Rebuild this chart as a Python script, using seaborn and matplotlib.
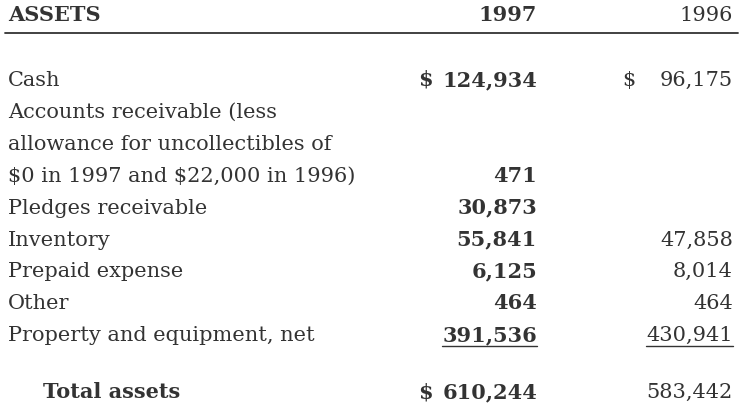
import matplotlib
matplotlib.use('Agg')
import matplotlib.pyplot as plt
import seaborn as sns

# Dados da tabela
labels = [
    'Cash',
    'Accounts receivable (less',
    'allowance for uncollectibles of',
    '$0 in 1997 and $22,000 in 1996)',
    'Pledges receivable',
    'Inventory',
    'Prepaid expense',
    'Other',
    'Property and equipment, net',
]
values_1997 = [124934, None, None, 471, 30873, 55841, 6125, 464, 391536]
values_1996 = [96175, None, None, None, None, 47858, 8014, 464, 430941]
total_label = 'Total assets'
total_1997 = 610244
total_1996 = 583442
years = ['1997', '1996']

sns.set_theme(style='white')
plt.rcParams['font.family'] = ['DejaVu Serif']

ink = '#333333'
fs = 15

fig = plt.figure(figsize=(7.4, 4.15), dpi=100)
ax = fig.add_axes([0, 0, 1, 1])
ax.set_xlim(0, 740)
ax.set_ylim(415, 0)
ax.axis('off')

x_label = 8
x_97 = 537
x_96 = 733
x_dollar97 = 418
x_dollar96 = 622

# cabeçalho
ax.text(x_label, 21, 'ASSETS', fontsize=fs, fontweight='bold', color=ink, va='baseline')
ax.text(x_97, 21, years[0], fontsize=fs, fontweight='bold', color=ink, va='baseline', ha='right')
ax.text(x_96, 21, years[1], fontsize=fs, color=ink, va='baseline', ha='right')
ax.plot([5, 738], [33, 33], color=ink, lw=1.3)

renderer = fig.canvas.get_renderer()

def underline(t, y):
    bb = t.get_window_extent(renderer=renderer)
    inv = ax.transData.inverted()
    (x0, _), (x1, _) = inv.transform([(bb.x0, 0), (bb.x1, 0)])
    ax.plot([x0, x1], [y, y], color=ink, lw=1.0)

y0 = 86
step = 31.9
for i, lab in enumerate(labels):
    y = y0 + i * step
    ax.text(x_label, y, lab, fontsize=fs, color=ink, va='baseline', parse_math=False)
    if values_1997[i] is not None:
        t = ax.text(x_97, y, f'{values_1997[i]:,}', fontsize=fs, fontweight='bold',
                    color=ink, va='baseline', ha='right')
        if i == len(labels) - 1:
            underline(t, y + 5)
    if values_1996[i] is not None:
        t = ax.text(x_96, y, f'{values_1996[i]:,}', fontsize=fs, color=ink,
                    va='baseline', ha='right')
        if i == len(labels) - 1:
            underline(t, y + 5)
    if i == 0:
        ax.text(x_dollar97, y, '$', fontsize=fs, fontweight='bold', color=ink,
                va='baseline', parse_math=False)
        ax.text(x_dollar96, y, '$', fontsize=fs, color=ink, va='baseline', parse_math=False)

# total
y_tot = 398
ax.text(43, y_tot, total_label, fontsize=fs, fontweight='bold', color=ink, va='baseline')
ax.text(x_dollar97, y_tot, '$', fontsize=fs, fontweight='bold', color=ink,
        va='baseline', parse_math=False)
ax.text(x_97, y_tot, f'{total_1997:,}', fontsize=fs, fontweight='bold', color=ink,
        va='baseline', ha='right')
ax.text(x_96, y_tot, f'{total_1996:,}', fontsize=fs, color=ink, va='baseline', ha='right')

fig.savefig('out.png', dpi=100, facecolor='white')
